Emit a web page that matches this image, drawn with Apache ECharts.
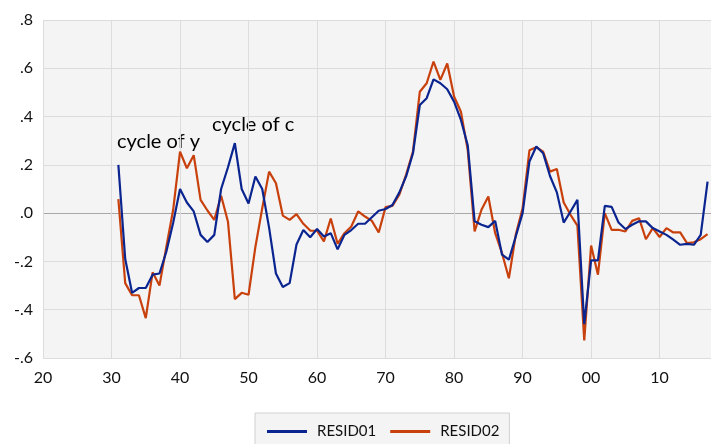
<!DOCTYPE html>
<html>
<head>
<meta charset="utf-8">
<script src="https://cdn.jsdelivr.net/npm/echarts@6/dist/echarts.min.js"></script>
<style>
html,body{margin:0;padding:0;background:#fff;}
#c{width:711px;height:444px;}
</style>
</head>
<body>
<div id="c"></div>
<script>
const years = [
1931,1932,1933,1934,1935,1936,1937,1938,1939,1940,
1941,1942,1943,1944,1945,1946,1947,1948,1949,1950,
1951,1952,1953,1954,1955,1956,1957,1958,1959,1960,
1961,1962,1963,1964,1965,1966,1967,1968,1969,1970,
1971,1972,1973,1974,1975,1976,1977,1978,1979,1980,
1981,1982,1983,1984,1985,1986,1987,1988,1989,1990,
1991,1992,1993,1994,1995,1996,1997,1998,1999,2000,
2001,2002,2003,2004,2005,2006,2007,2008,2009,2010,
2011,2012,2013,2014,2015,2016,2017];
const resid01 = [
0.20,-0.19,-0.33,-0.31,-0.31,-0.255,-0.25,-0.16,-0.04,0.10,
0.044,0.007,-0.09,-0.12,-0.09,0.10,0.19,0.29,0.10,0.04,
0.152,0.10,-0.06,-0.25,-0.306,-0.29,-0.13,-0.07,-0.10,-0.066,
-0.097,-0.083,-0.15,-0.09,-0.07,-0.044,-0.044,-0.017,0.01,0.017,
0.034,0.085,0.152,0.248,0.448,0.476,0.554,0.538,0.513,0.462,
0.386,0.28,-0.034,-0.048,-0.058,-0.032,-0.172,-0.193,-0.097,0.0,
0.214,0.276,0.248,0.154,0.086,-0.039,0.007,0.055,-0.46,-0.196,
-0.196,0.03,0.026,-0.039,-0.066,-0.048,-0.034,-0.034,-0.062,-0.076,
-0.09,-0.11,-0.131,-0.127,-0.131,-0.09,0.131];
const resid02 = [
0.058,-0.29,-0.34,-0.34,-0.435,-0.245,-0.30,-0.14,0.014,0.255,
0.186,0.24,0.055,0.011,-0.028,0.072,-0.036,-0.356,-0.33,-0.338,
-0.14,0.02,0.172,0.124,-0.01,-0.028,-0.004,-0.044,-0.072,-0.073,
-0.117,-0.022,-0.127,-0.083,-0.055,0.007,-0.014,-0.032,-0.08,0.025,
0.03,0.076,0.16,0.255,0.503,0.538,0.628,0.552,0.62,0.483,
0.42,0.26,-0.076,0.014,0.069,-0.083,-0.166,-0.27,-0.09,0.02,
0.26,0.273,0.255,0.172,0.183,0.044,-0.007,-0.052,-0.527,-0.134,
-0.255,0.0,-0.069,-0.069,-0.076,-0.032,-0.021,-0.108,-0.062,-0.099,
-0.062,-0.08,-0.08,-0.124,-0.121,-0.108,-0.087];
const seriesNames = ['RESID01','RESID02'];
const annotations = ['cycle of y','cycle of c'];

const FONT = 'Lato';
const chart = echarts.init(document.getElementById('c'), null, {renderer:'canvas'});
const pair = arr => years.map((y,i)=>[y, arr[i]]);
chart.setOption({
  backgroundColor:'#ffffff',
  animation:false,
  grid:{left:43,right:0,top:20,bottom:86,show:true,backgroundColor:'#f4f4f4',borderWidth:0},
  xAxis:{
    type:'value', min:1920, max:2017.5, interval:10,
    axisLine:{show:false}, axisTick:{show:false},
    splitLine:{show:true,lineStyle:{color:'#dcdcdc',width:1}},
    axisLabel:{
      showMaxLabel:false, margin:12,
      fontFamily:FONT, fontSize:16, color:'#111',
      formatter:v => (Math.round(v)%10===0) ? String(Math.round(v)%100).padStart(2,'0') : ''
    }
  },
  yAxis:{
    type:'value', min:-0.6, max:0.8, interval:0.2,
    axisLine:{show:false}, axisTick:{show:false},
    splitLine:{show:true,lineStyle:{color:['#dcdcdc','#dcdcdc','#dcdcdc','#a8a8a8','#dcdcdc','#dcdcdc','#dcdcdc','#dcdcdc'],width:1}},
    axisLabel:{
      margin:10, fontFamily:FONT, fontSize:16, color:'#111',
      formatter:v => {
        const n = Math.round(Math.abs(v)*10);
        return (v < -1e-9 ? '-' : '') + '.' + n;
      }
    }
  },
  legend:{
    left:255, top:413,
    data:seriesNames.map(n=>({name:n,icon:'rect'})),
    itemWidth:40, itemHeight:3, itemGap:14,
    backgroundColor:'#f4f4f4', borderColor:'#d0d0d0', borderWidth:1,
    padding:[11,10,14,12],
    textStyle:{fontFamily:FONT,fontSize:15,color:'#111',padding:[0,0,0,5]}
  },
  graphic:[
    {type:'text',left:117,top:132,style:{text:annotations[0],font:'20px Lato',fill:'#000'}},
    {type:'text',left:212,top:115,style:{text:annotations[1],font:'20px Lato',fill:'#000'}}
  ],
  series:[
    {name:seriesNames[0],type:'line',data:pair(resid01),showSymbol:false,symbol:'none',
     lineStyle:{color:'#0b2590',width:2.2},itemStyle:{color:'#0b2590'},z:3},
    {name:seriesNames[1],type:'line',data:pair(resid02),showSymbol:false,symbol:'none',
     lineStyle:{color:'#c8400c',width:2.2},itemStyle:{color:'#c8400c'},z:2}
  ]
});
</script>
</body>
</html>
